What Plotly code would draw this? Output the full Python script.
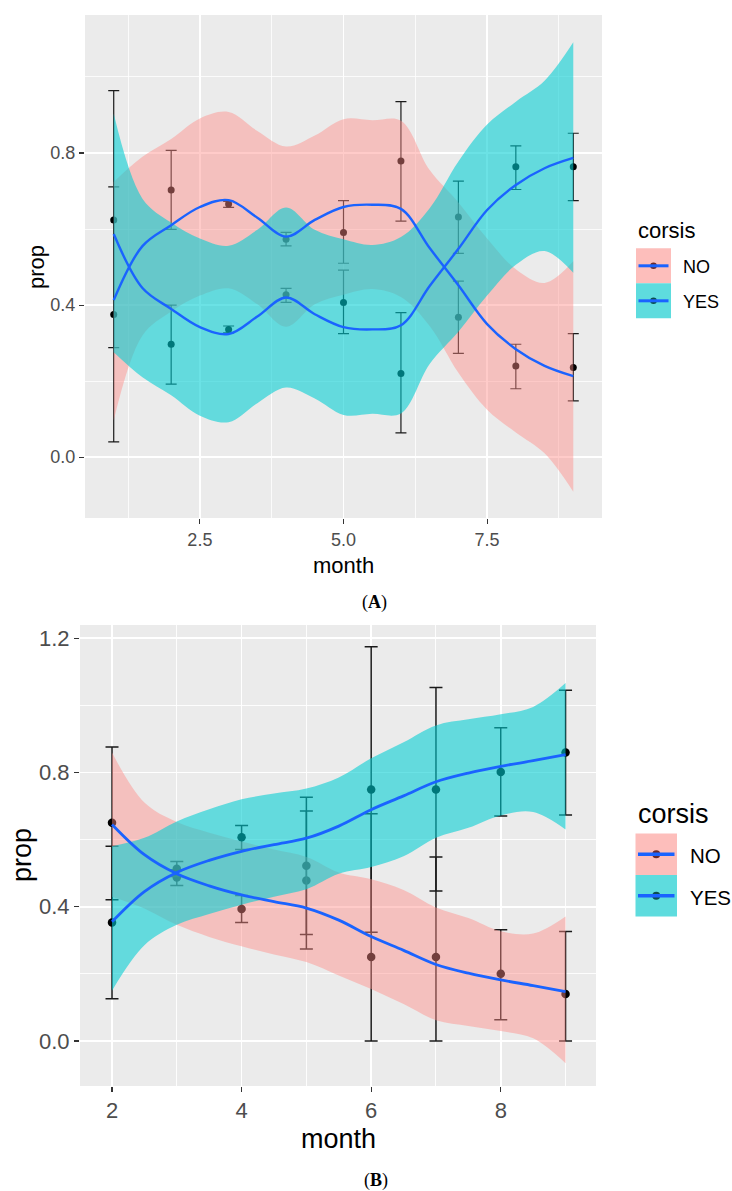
import plotly.graph_objects as go

W, H = 732, 1191

# ---------------- Panel A data ----------------
months_A = [1, 2, 3, 4, 5, 6, 7, 8, 9]
A_NO = [0.375, 0.703, 0.666, 0.573, 0.591, 0.779, 0.368, 0.240, 0.236]
A_NO_lo = [0.040, 0.599, 0.657, 0.556, 0.510, 0.621, 0.273, 0.180, 0.148]
A_NO_hi = [0.711, 0.807, 0.673, 0.591, 0.675, 0.935, 0.463, 0.297, 0.325]
A_YES = [0.624, 0.297, 0.336, 0.427, 0.407, 0.220, 0.632, 0.764, 0.764]
A_YES_lo = [0.288, 0.192, 0.327, 0.407, 0.325, 0.064, 0.536, 0.704, 0.675]
A_YES_hi = [0.964, 0.400, 0.345, 0.444, 0.492, 0.380, 0.726, 0.819, 0.852]

grid_A = [1.0, 1.5, 2.0, 2.5, 3.0, 3.5, 4.0, 4.5, 5.0, 5.5, 6.0, 6.5, 7.0, 7.5, 8.0, 8.5, 9.0]
A_NO_fit = [0.413, 0.555, 0.610, 0.658, 0.676, 0.630, 0.580, 0.624, 0.658, 0.664, 0.653, 0.550, 0.452, 0.350, 0.284, 0.240, 0.213]
A_NO_up = [0.724, 0.790, 0.837, 0.891, 0.908, 0.858, 0.817, 0.846, 0.889, 0.886, 0.885, 0.755, 0.670, 0.575, 0.494, 0.458, 0.515]
A_NO_dn = [0.097, 0.320, 0.383, 0.425, 0.444, 0.402, 0.343, 0.402, 0.427, 0.442, 0.421, 0.345, 0.222, 0.125, 0.065, 0.010, -0.091]
A_YES_fit = [0.587, 0.445, 0.390, 0.342, 0.324, 0.370, 0.420, 0.376, 0.342, 0.336, 0.347, 0.450, 0.548, 0.650, 0.716, 0.760, 0.787]
A_YES_up = [0.903, 0.680, 0.617, 0.575, 0.556, 0.598, 0.657, 0.598, 0.573, 0.558, 0.579, 0.655, 0.778, 0.875, 0.935, 0.990, 1.091]
A_YES_dn = [0.276, 0.210, 0.163, 0.109, 0.092, 0.142, 0.183, 0.154, 0.111, 0.114, 0.115, 0.245, 0.330, 0.425, 0.506, 0.542, 0.485]

# ---------------- Panel B data ----------------
months_B = [2, 3, 4, 5, 6, 7, 8, 9]
B_NO = [0.650, 0.487, 0.393, 0.478, 0.250, 0.250, 0.200, 0.140]
B_NO_lo = [0.421, 0.463, 0.353, 0.274, 0.000, 0.000, 0.063, 0.000]
B_NO_hi = [0.876, 0.510, 0.433, 0.685, 0.677, 0.548, 0.331, 0.326]
B_YES = [0.353, 0.513, 0.607, 0.522, 0.749, 0.749, 0.801, 0.859]
B_YES_lo = [0.126, 0.490, 0.570, 0.317, 0.324, 0.447, 0.670, 0.673]
B_YES_hi = [0.580, 0.535, 0.642, 0.726, 1.174, 1.053, 0.933, 1.045]

grid_B = [2.0, 2.5, 3.0, 3.5, 4.0, 4.5, 5.0, 5.5, 6.0, 6.5, 7.0, 7.5, 8.0, 8.5, 9.0]
B_NO_fit = [0.645, 0.555, 0.498, 0.462, 0.435, 0.415, 0.396, 0.360, 0.311, 0.270, 0.228, 0.202, 0.182, 0.165, 0.147]
B_NO_up = [0.859, 0.710, 0.652, 0.620, 0.594, 0.570, 0.548, 0.502, 0.482, 0.450, 0.398, 0.366, 0.327, 0.320, 0.371]
B_NO_dn = [0.430, 0.395, 0.346, 0.310, 0.282, 0.258, 0.235, 0.195, 0.155, 0.110, 0.062, 0.045, 0.030, 0.008, -0.066]
B_YES_fit = [0.355, 0.445, 0.502, 0.538, 0.565, 0.585, 0.604, 0.640, 0.689, 0.730, 0.772, 0.798, 0.818, 0.835, 0.853]
B_YES_up = [0.580, 0.605, 0.654, 0.690, 0.720, 0.737, 0.752, 0.785, 0.842, 0.890, 0.940, 0.958, 0.973, 0.995, 1.066]
B_YES_dn = [0.150, 0.285, 0.346, 0.378, 0.406, 0.430, 0.452, 0.498, 0.518, 0.550, 0.605, 0.635, 0.672, 0.682, 0.630]

A_xticks = [2.5, 5.0, 7.5]
A_xticktext = ["2.5", "5.0", "7.5"]
A_yticks = [0.0, 0.4, 0.8]
A_yticktext = ["0.0", "0.4", "0.8"]
B_xticks = [2, 4, 6, 8]
B_xticktext = ["2", "4", "6", "8"]
B_yticks = [0.0, 0.4, 0.8, 1.2]
B_yticktext = ["0.0", "0.4", "0.8", "1.2"]

PINK = "rgba(255,140,135,0.45)"
CYAN = "rgba(0,205,210,0.58)"
BLUE = "#1a63ff"
FONT = "Liberation Sans, Arial, sans-serif"

fig = go.Figure()


def add_panel(xa, ya, months, groups, grid, ribbons, fits, ptsize, capw, ebw, lw):
    # points + error bars (black, drawn beneath ribbons)
    for val, lo, hi in groups:
        fig.add_trace(go.Scatter(
            x=months, y=val, mode="markers", xaxis=xa, yaxis=ya,
            marker=dict(color="black", size=ptsize),
            error_y=dict(type="data", symmetric=False,
                         array=[h - v for v, h in zip(val, hi)],
                         arrayminus=[v - l for v, l in zip(val, lo)],
                         color="#1a1a1a", thickness=ebw, width=capw),
            showlegend=False, hoverinfo="skip"))
    # ribbons
    for dn, up, col in ribbons:
        fig.add_trace(go.Scatter(x=grid, y=dn, mode="lines", xaxis=xa, yaxis=ya,
                                 line=dict(width=0, shape="spline", color="rgba(0,0,0,0)"),
                                 showlegend=False, hoverinfo="skip"))
        fig.add_trace(go.Scatter(x=grid, y=up, mode="lines", xaxis=xa, yaxis=ya,
                                 fill="tonexty", fillcolor=col,
                                 line=dict(width=0, shape="spline", color="rgba(0,0,0,0)"),
                                 showlegend=False, hoverinfo="skip"))
    # fitted lines
    for fit in fits:
        fig.add_trace(go.Scatter(x=grid, y=fit, mode="lines", xaxis=xa, yaxis=ya,
                                 line=dict(width=lw, shape="spline", color=BLUE),
                                 showlegend=False, hoverinfo="skip"))


add_panel("x", "y", months_A,
          [(A_NO, A_NO_lo, A_NO_hi), (A_YES, A_YES_lo, A_YES_hi)],
          grid_A,
          [(A_NO_dn, A_NO_up, PINK), (A_YES_dn, A_YES_up, CYAN)],
          [A_NO_fit, A_YES_fit],
          7, 5.5, 1.2, 2.4)
add_panel("x2", "y2", months_B,
          [(B_NO, B_NO_lo, B_NO_hi), (B_YES, B_YES_lo, B_YES_hi)],
          grid_B,
          [(B_NO_dn, B_NO_up, PINK), (B_YES_dn, B_YES_up, CYAN)],
          [B_NO_fit, B_YES_fit],
          8.5, 6.5, 1.5, 2.8)


def px(x):
    return x / W


def py(y):
    return 1 - y / H


def axis_common(fs):
    return dict(showgrid=True, gridcolor="white", zeroline=False, showline=False,
                ticks="outside", ticklen=5, tickwidth=1.1, tickcolor="#333333",
                tickfont=dict(family=FONT, size=fs, color="#4D4D4D"))


fig.update_layout(
    width=W, height=H, margin=dict(l=0, r=0, t=0, b=0),
    paper_bgcolor="white", plot_bgcolor="#EBEBEB",
    showlegend=False,
    xaxis=dict(domain=[px(85), px(602)], range=[0.5, 9.5], anchor="y",
               tickvals=A_xticks, ticktext=A_xticktext, gridwidth=1.6,
               minor=dict(tickvals=[1.25, 3.75, 6.25, 8.75], showgrid=True,
                          gridcolor="white", gridwidth=0.8, ticks=""),
               **axis_common(18)),
    yaxis=dict(domain=[py(518), py(15)], range=[-0.16, 1.163], anchor="x",
               tickvals=A_yticks, ticktext=A_yticktext, gridwidth=1.6,
               minor=dict(tickvals=[0.2, 0.6, 1.0], showgrid=True,
                          gridcolor="white", gridwidth=0.8, ticks=""),
               **axis_common(18)),
    xaxis2=dict(domain=[px(80), px(596)], range=[1.506, 9.47], anchor="y2",
                tickvals=B_xticks, ticktext=B_xticktext, gridwidth=1.8,
                minor=dict(tickvals=[3, 5, 7, 9], showgrid=True,
                           gridcolor="white", gridwidth=0.9, ticks=""),
                **axis_common(22)),
    yaxis2=dict(domain=[py(1086), py(625)], range=[-0.134, 1.239], anchor="x2",
                tickvals=B_yticks, ticktext=B_yticktext, gridwidth=1.8,
                minor=dict(tickvals=[0.2, 0.6, 1.0], showgrid=True,
                           gridcolor="white", gridwidth=0.9, ticks=""),
                **axis_common(22)),
)

ann = []


def text(x, y, s, size, color="black", xanchor="center", angle=0, family=FONT):
    ann.append(dict(x=px(x), y=py(y), xref="paper", yref="paper", text=s,
                    showarrow=False, xanchor=xanchor, yanchor="middle",
                    textangle=angle, font=dict(family=family, size=size, color=color)))


# axis titles
text(343.5, 565, "month", 22)
text(36, 267, "prop", 22, angle=-90)
text(338, 1139, "month", 27)
text(22, 855, "prop", 27, angle=-90)
# panel labels
text(374.5, 602, "(<b>A</b>)", 18, family="Liberation Serif, Times New Roman, serif")
text(376, 1180, "(<b>B</b>)", 18, family="Liberation Serif, Times New Roman, serif")

# legends
shapes = []


def legend(x0, ytitle, ybox0, box, tsize, lsize, lab_x, lw, pr):
    text(x0, ytitle, "corsis", tsize, xanchor="left")
    keys = [("NO", "#FDBEBB", "#6b2a2a"), ("YES", "#5EDCDE", "#0d4d4f")]
    for i, (lab, fc, pc) in enumerate(keys):
        y0 = ybox0 + i * box
        shapes.append(dict(type="rect", xref="paper", yref="paper",
                           x0=px(x0), x1=px(x0 + box), y0=py(y0 + box), y1=py(y0),
                           fillcolor=fc, line=dict(width=0), layer="above"))
        cx, cy = x0 + box / 2, y0 + box / 2
        shapes.append(dict(type="circle", xref="paper", yref="paper",
                           x0=px(cx - pr), x1=px(cx + pr), y0=py(cy + pr), y1=py(cy - pr),
                           fillcolor=pc, line=dict(width=0), layer="above"))
        shapes.append(dict(type="line", xref="paper", yref="paper",
                           x0=px(x0 + 2.5), x1=px(x0 + box - 2.5), y0=py(cy), y1=py(cy),
                           line=dict(color=BLUE, width=lw), layer="above"))
        text(lab_x, cy + 1.5, lab, lsize, xanchor="left")


legend(636, 231, 248.3, 35, 22, 18, 681, 3, 3.3)
legend(635.5, 814, 833.5, 41.5, 27, 20.5, 688, 3.5, 4)

fig.update_layout(annotations=ann, shapes=shapes)

fig.write_html("out.html", config={"displayModeBar": False, "staticPlot": True})

# remove the default page margin so the figure sits at the window's top-left
with open("out.html", "r", encoding="utf-8") as f:
    html = f.read()
html = html.replace("<body>", '<body style="margin:0;padding:0;overflow:hidden">', 1)
with open("out.html", "w", encoding="utf-8") as f:
    f.write(html)
